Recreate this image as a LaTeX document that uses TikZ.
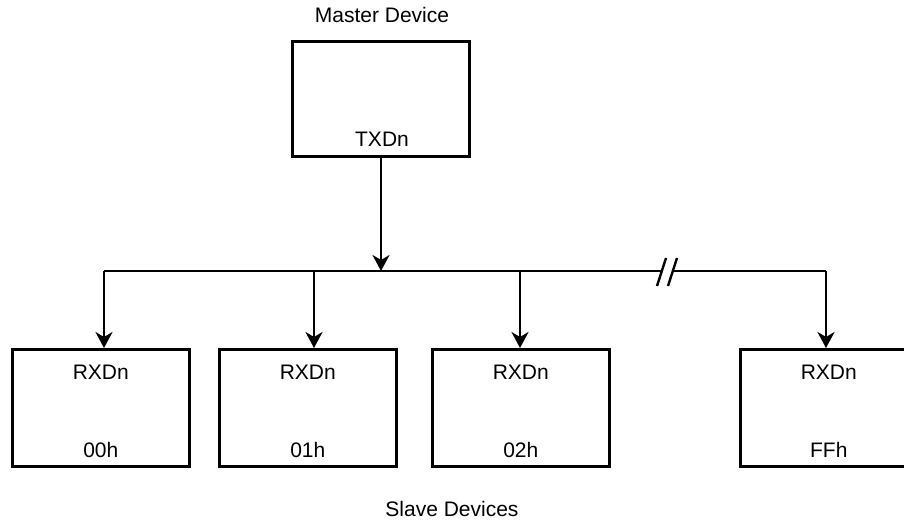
\documentclass[tikz,border=0pt]{standalone}
\usepackage{fontspec}
\setmainfont{Liberation Sans}
\usetikzlibrary{arrows.meta}
\begin{document}
\begin{tikzpicture}[x=1pt,y=-1pt,
  dev/.style={draw,line width=2.6pt,minimum width=177pt,minimum height=117pt,anchor=north west,inner sep=0pt},
  lbl/.style={font=\fontsize{21}{25}\selectfont,inner sep=0pt},
  conn/.style={line width=2.4pt,-{Stealth[length=16pt,width=17pt,inset=5pt]}},
  bus/.style={line width=2.4pt}]
\useasboundingbox (0,0) rectangle (904,524);
\node[lbl] (mtitle) at (382,15) {Master Device};
\node[draw,line width=2.6pt,minimum width=177pt,minimum height=115pt,inner sep=0pt] (master) at (381,99) {};
\node[lbl] (tx) at (382,139) {TXDn};
\node[dev] (s0) at (11,348) {};
\node[dev] (s1) at (218,348) {};
\node[dev] (s2) at (431,348) {};
\node[dev] (s3) at (739,348) {};
\foreach \n/\a in {s0/00h,s1/01h,s2/02h,s3/FFh}{
  \node[lbl] (\n rx) at ([yshift=-24pt]\n.north) {RXDn};
  \node[lbl] (\n id) at ([yshift=18pt]\n.south) {\a};
}
\node[lbl] (stitle) at (452,509) {Slave Devices};
\coordinate (j) at (381,271);
\coordinate (b0) at (104,271);
\coordinate (b1) at (314,271);
\coordinate (b2) at (520,271);
\coordinate (b3) at (826,271);
\coordinate (brkL) at (661,271);
\coordinate (brkR) at (672,271);
\draw[conn] (master.south) -- (j);
\draw[bus] (b0) -- (brkL);
\draw[bus] (brkR) -- (b3);
\draw[bus] (657,286) -- (666,258);
\draw[bus] (668,286) -- (677,258);
\draw[conn] (b0) -- (b0 |- s0.north);
\draw[conn] (b1) -- (b1 |- s1.north);
\draw[conn] (b2) -- (b2 |- s2.north);
\draw[conn] (b3) -- (b3 |- s3.north);
\end{tikzpicture}
\end{document}
